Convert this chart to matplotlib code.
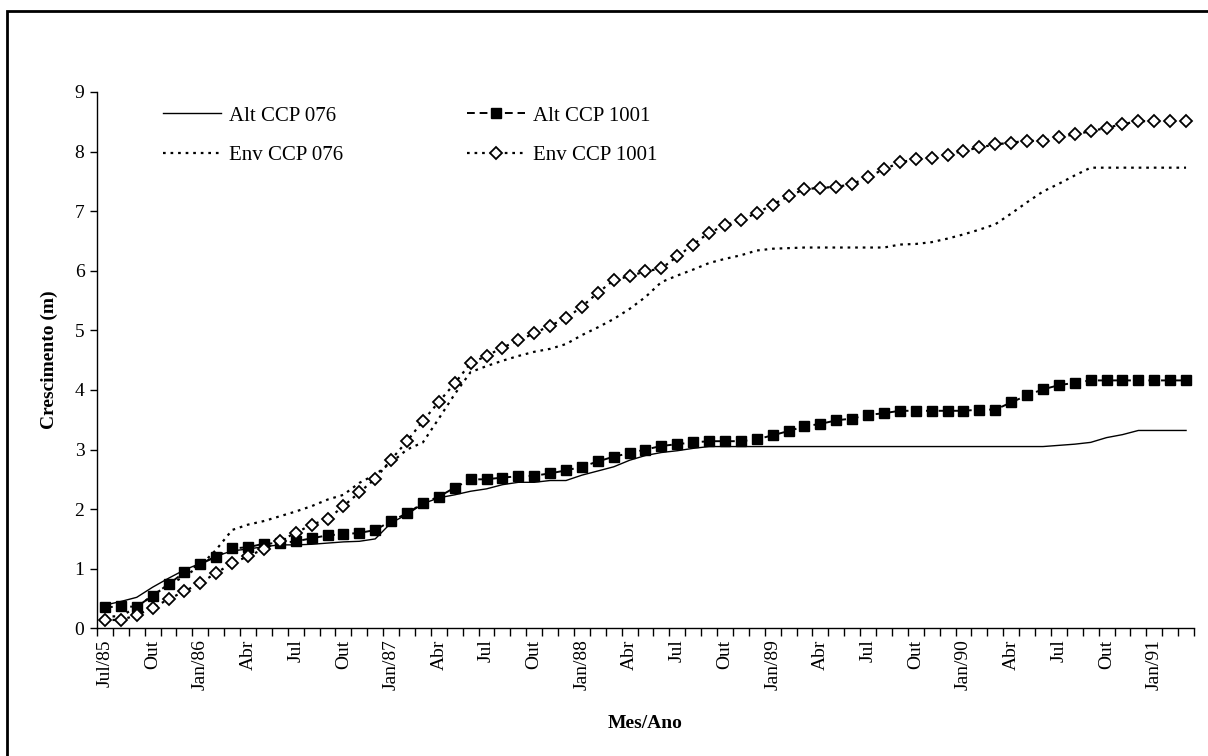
import numpy as np
import matplotlib
matplotlib.use("Agg")
import matplotlib.pyplot as plt
from matplotlib.patches import Rectangle

plt.rcParams["font.family"] = ["Liberation Serif", "DejaVu Serif"]

# ===== DATA =====

months = ["Jan", "Fev", "Mar", "Abr", "Mai", "Jun", "Jul", "Ago", "Set", "Out", "Nov", "Dez"]

# Jul/85 .. Mar/91, one point per month
n_months = 69
start_month = 6  # Jul
start_year = 85

alt_076 = [
    0.39, 0.45, 0.52, 0.69, 0.84, 0.98, 1.09, 1.21, 1.30, 1.33,
    1.37, 1.40, 1.40, 1.41, 1.43, 1.45, 1.46, 1.50, 1.77, 1.91,
    2.09, 2.19, 2.24, 2.30, 2.34, 2.41, 2.45, 2.45, 2.48, 2.48,
    2.57, 2.64, 2.71, 2.82, 2.90, 2.95, 2.98, 3.02, 3.05, 3.05,
    3.05, 3.05, 3.05, 3.05, 3.05, 3.05, 3.05, 3.05, 3.05, 3.05,
    3.05, 3.05, 3.05, 3.05, 3.05, 3.05, 3.05, 3.05, 3.05, 3.05,
    3.07, 3.09, 3.12, 3.20, 3.25, 3.32, 3.32, 3.32, 3.32,
]

alt_1001 = [
    0.35, 0.37, 0.36, 0.55, 0.74, 0.94, 1.08, 1.20, 1.34, 1.36,
    1.42, 1.43, 1.46, 1.51, 1.56, 1.58, 1.60, 1.65, 1.80, 1.93,
    2.10, 2.21, 2.36, 2.50, 2.50, 2.53, 2.55, 2.56, 2.60, 2.65,
    2.71, 2.80, 2.88, 2.94, 3.00, 3.06, 3.09, 3.12, 3.14, 3.14,
    3.14, 3.17, 3.24, 3.31, 3.39, 3.43, 3.49, 3.52, 3.58, 3.61,
    3.65, 3.65, 3.65, 3.65, 3.65, 3.67, 3.67, 3.79, 3.91, 4.01,
    4.08, 4.12, 4.16, 4.16, 4.16, 4.16, 4.16, 4.16, 4.16,
]

env_076 = [
    0.20, 0.20, 0.36, 0.55, 0.73, 0.87, 1.05, 1.32, 1.65, 1.74,
    1.80, 1.88, 1.96, 2.05, 2.16, 2.24, 2.44, 2.58, 2.78, 3.00,
    3.12, 3.52, 3.93, 4.30, 4.40, 4.49, 4.57, 4.64, 4.69, 4.77,
    4.92, 5.05, 5.19, 5.36, 5.56, 5.81, 5.92, 6.02, 6.13, 6.20,
    6.26, 6.34, 6.37, 6.38, 6.39, 6.39, 6.39, 6.39, 6.39, 6.39,
    6.44, 6.45, 6.48, 6.54, 6.61, 6.69, 6.78, 6.96, 7.15, 7.33,
    7.46, 7.60, 7.73, 7.73, 7.73, 7.73, 7.73, 7.73, 7.73,
]

env_1001 = [
    0.14, 0.14, 0.22, 0.34, 0.49, 0.62, 0.76, 0.93, 1.09, 1.21,
    1.33, 1.47, 1.60, 1.74, 1.83, 2.05, 2.28, 2.51, 2.83, 3.14,
    3.48, 3.80, 4.11, 4.45, 4.57, 4.71, 4.83, 4.95, 5.08, 5.20,
    5.40, 5.63, 5.84, 5.91, 5.99, 6.04, 6.24, 6.44, 6.64, 6.76,
    6.85, 6.97, 7.11, 7.25, 7.37, 7.39, 7.41, 7.45, 7.58, 7.70,
    7.82, 7.87, 7.90, 7.95, 8.01, 8.07, 8.12, 8.15, 8.18, 8.18,
    8.24, 8.29, 8.34, 8.40, 8.46, 8.51, 8.51, 8.51, 8.51,
]

# tick labels: every 3 months, year shown on Jan and on the first label
tick_labels = []
for i in range(0, n_months, 3):
    m = (start_month + i) % 12
    y = start_year + (start_month + i) // 12
    if i == 0 or m == 0:
        tick_labels.append(f"{months[m]}/{y}")
    else:
        tick_labels.append(months[m])

# ===== PLOT =====

fig = plt.figure(figsize=(12.08, 7.56), dpi=100)
ax = fig.add_axes([97 / 1208, 1 - 628.3 / 756, 1097 / 1208, (628.3 - 92) / 756])

x = np.arange(n_months)

(l1,) = ax.plot(x, alt_076, color="black", lw=1.0, ls="-", label="Alt CCP 076")
(l2,) = ax.plot(
    x, alt_1001, color="black", lw=1.4, ls=(0, (4, 2.5)),
    marker="s", ms=7, mfc="black", mec="black", label="Alt CCP 1001",
)
(l3,) = ax.plot(x, env_076, color="black", lw=1.6, ls=(0, (1.2, 2.2)), label="Env CCP 076")
(l4,) = ax.plot(
    x, env_1001, color="black", lw=1.6, ls=(0, (1.2, 2.2)),
    marker="D", ms=6, mfc="white", mec="black", mew=1.3, label="Env CCP 1001",
)

ax.set_xlim(-0.5, n_months - 0.5)
ax.set_ylim(0, 9)
ax.set_yticks(range(0, 10))
ax.tick_params(axis="y", labelsize=14, direction="out", length=5, width=1, pad=4)

# category style x axis: tick marks between months, labels centred on months
ax.set_xticks(np.arange(-0.5, n_months, 1.0))
ax.set_xticklabels([])
ax.set_xticks(np.arange(0, n_months, 3), minor=True)
ax.set_xticklabels(tick_labels, minor=True, rotation=90, fontsize=14)
ax.tick_params(axis="x", which="major", direction="out", length=6, width=1)
ax.tick_params(axis="x", which="minor", length=0, pad=8)

for side in ["top", "right"]:
    ax.spines[side].set_visible(False)
for side in ["left", "bottom"]:
    ax.spines[side].set_linewidth(1.0)

ax.set_ylabel("Crescimento (m)", fontsize=14, fontweight="bold", labelpad=12)
ax.set_xlabel("Mes/Ano", fontsize=14, fontweight="bold", labelpad=18)

leg_kw = dict(
    frameon=False, fontsize=15, handlelength=2.8, handletextpad=0.35,
    labelspacing=0.95, borderpad=0, borderaxespad=0, loc="upper left",
    bbox_transform=fig.transFigure,
)
leg1 = ax.legend(handles=[l1, l3], bbox_to_anchor=(163 / 1208, 1 - 106 / 756), **leg_kw)
ax.add_artist(leg1)
ax.legend(handles=[l2, l4], bbox_to_anchor=(467 / 1208, 1 - 106 / 756), **leg_kw)

# outer chart frame (right/bottom edges fall outside the picture)
fig.patches.append(
    Rectangle((7 / 1208, -0.05), 1.1, 1 - 11 / 756 + 0.05, transform=fig.transFigure,
              fill=False, edgecolor="black", lw=2, clip_on=False)
)

fig.savefig("out.png", dpi=100)
